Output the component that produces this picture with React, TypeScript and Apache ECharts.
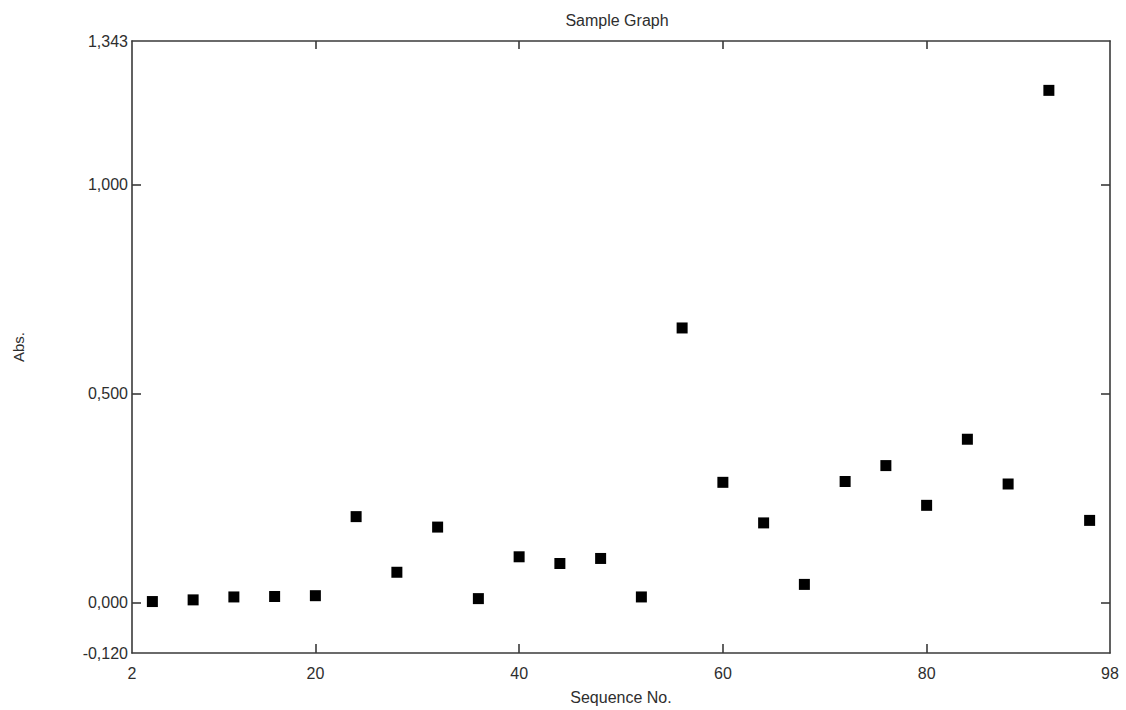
import React, { useEffect, useRef } from "react";
import * as echarts from "echarts";

const seqNo = [4, 8, 12, 16, 20, 24, 28, 32, 36, 40, 44, 48, 52, 56, 60, 64, 68, 72, 76, 80, 84, 88, 92, 96];
const absValues = [0.003, 0.007, 0.014, 0.015, 0.017, 0.206, 0.073, 0.181, 0.01, 0.11, 0.094, 0.106, 0.014, 0.657, 0.288, 0.191, 0.044, 0.29, 0.328, 0.233, 0.391, 0.284, 1.225, 0.197];
const xLabelValues = [2, 20, 40, 60, 80, 98];
const xTickValues = [20, 40, 60, 80];
const yLabelValues = [-0.12, 0, 0.5, 1.0, 1.343];
const yTickValues = [0, 0.5, 1.0];

const fmtY = (v: number) => v.toFixed(3).replace(".", ",");

export default function App() {
  const ref = useRef<HTMLDivElement>(null);
  useEffect(() => {
    if (!ref.current) return;
    const chart = echarts.init(ref.current, null, { renderer: "svg" });
    const lineStyle = { color: "#3a3a3a", width: 1.6 };
    const font = { fontFamily: "Liberation Sans", fontSize: 16, color: "#2e2e2e" };
    chart.setOption({
      animation: false,
      backgroundColor: "#fff",
      title: {
        text: "Sample Graph",
        left: 612,
        textAlign: "center",
        top: 7,
        textStyle: { ...font, fontSize: 16, fontWeight: "normal" },
      },
      grid: { left: 132, right: 16, top: 41, bottom: 52 },
      xAxis: [
        {
          type: "value",
          min: 2,
          max: 98,
          name: "Sequence No.",
          nameLocation: "middle",
          nameGap: 36,
          nameTextStyle: { ...font },
          axisLine: { show: true, onZero: false, lineStyle },
          axisTick: { show: true, inside: true, length: 9, customValues: xTickValues, lineStyle },
          axisLabel: { ...font, margin: 12, customValues: xLabelValues, formatter: (v: number) => String(v) },
          splitLine: { show: false },
        },
        {
          type: "value",
          position: "top",
          min: 2,
          max: 98,
          axisLine: { show: true, onZero: false, lineStyle },
          axisTick: { show: true, inside: true, length: 8, customValues: xTickValues, lineStyle },
          axisLabel: { show: false },
          splitLine: { show: false },
        },
      ],
      yAxis: [
        {
          type: "value",
          min: -0.12,
          max: 1.343,
          name: "Abs.",
          nameLocation: "middle",
          nameGap: 106,
          nameRotate: 90,
          nameTextStyle: { ...font, fontSize: 15 },
          axisLine: { show: true, onZero: false, lineStyle },
          axisTick: { show: true, inside: true, length: 9, customValues: yTickValues, lineStyle },
          axisLabel: { ...font, margin: 4, customValues: yLabelValues, formatter: (v: number) => fmtY(v) },
          splitLine: { show: false },
        },
        {
          type: "value",
          position: "right",
          min: -0.12,
          max: 1.343,
          axisLine: { show: true, onZero: false, lineStyle },
          axisTick: { show: true, inside: true, length: 9, customValues: yTickValues, lineStyle },
          axisLabel: { show: false },
          splitLine: { show: false },
        },
      ],
      series: [
        {
          type: "scatter",
          xAxisIndex: 0,
          yAxisIndex: 0,
          symbol: "rect",
          symbolSize: 11,
          itemStyle: { color: "#000", opacity: 1 },
          data: seqNo.map((x, i) => [x, absValues[i]]),
        },
      ],
    });
    return () => chart.dispose();
  }, []);
  return <div ref={ref} style={{ position: "fixed", left: 0, top: 0, width: 1126, height: 710 }} />;
}
